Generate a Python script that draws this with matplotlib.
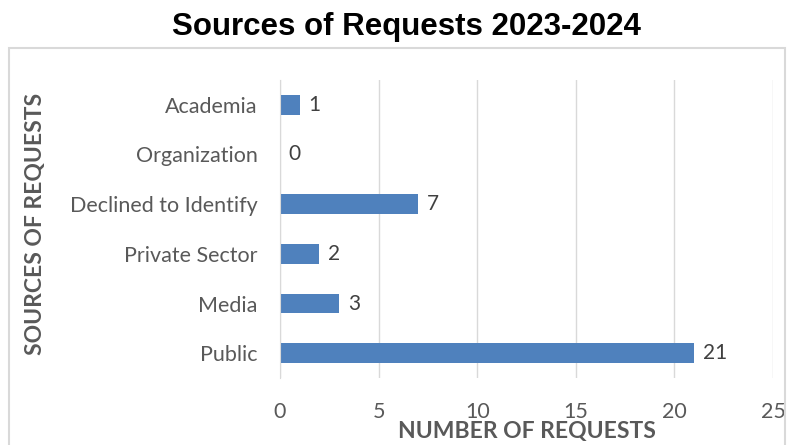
import matplotlib.pyplot as plt
from matplotlib.patches import Rectangle

# donnees
categories = ['Public', 'Media', 'Private Sector', 'Declined to Identify', 'Organization', 'Academia']
requests = [21, 3, 2, 7, 0, 1]
xticks = [0, 5, 10, 15, 20, 25]

W, H = 790, 445
fig = plt.figure(figsize=(W/100, H/100), dpi=100)
gris = '#595959'
bleu = '#4f81bd'

# cadre du graphique (ouvert en bas)
fig.patches.append(Rectangle((9/W, -0.05), 776/W, 1.05 - 48/H, transform=fig.transFigure,
                             fill=False, edgecolor='#d9d9d9', linewidth=1.5))

ax = fig.add_axes([280/W, 1 - 378/H, (773-280)/W, (378-80)/H])
y = range(len(categories))
ax.barh(y, requests, height=0.39, color=bleu)
for yi, v in zip(y, requests):
    ax.text(v + 0.45, yi, str(v), va='center', ha='left', fontsize=15, color='#404040', family='Lato')

ax.set_xlim(0, 25)
ax.set_ylim(-0.5, len(categories) - 0.5)
ax.set_xticks(xticks)
ax.set_yticks(list(y))
ax.set_yticklabels(categories, family='Lato', fontsize=15.5, color=gris)
ax.set_xticklabels([str(t) for t in xticks], family='Lato', fontsize=15.5, color=gris)
ax.tick_params(axis='both', length=0)
ax.tick_params(axis='x', pad=17)
ax.tick_params(axis='y', pad=16)
ax.grid(axis='x', color='#d9d9d9', linewidth=1)
ax.set_axisbelow(True)
for s in ['top', 'right', 'bottom']:
    ax.spines[s].set_visible(False)
ax.spines['left'].set_color('#d9d9d9')

fig.text(406/W, 1 - 35/H, 'Sources of Requests 2023-2024', ha='center', va='baseline',
         fontsize=22.5, fontweight='bold', family='Liberation Sans')
fig.text(527/W, 1 - 438/H, 'NUMBER OF REQUESTS', ha='center', va='baseline',
         fontsize=16.5, fontweight='bold', color=gris, family='Lato')
fig.text(36/W, 1 - 224/H, 'SOURCES OF REQUESTS', ha='center', va='center', rotation=90,
         fontsize=16.5, fontweight='bold', color=gris, family='Lato')

fig.savefig('out.png', dpi=100)
